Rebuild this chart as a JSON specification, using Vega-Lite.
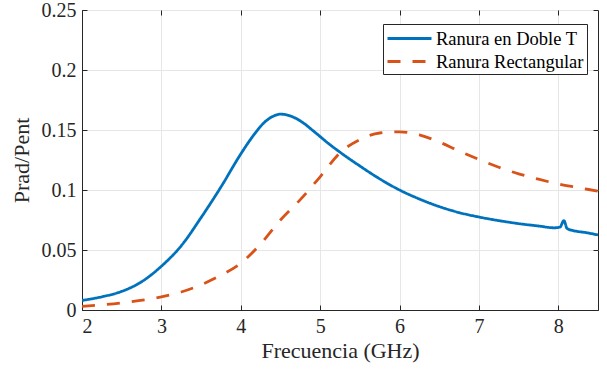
{
  "$schema": "https://vega.github.io/schema/vega-lite/v6.json",
  "width": 516,
  "height": 300,
  "autosize": "none",
  "padding": {"left": 82, "top": 10, "right": 9, "bottom": 66},
  "background": "white",
  "config": {
    "font": "Liberation Serif",
    "view": {"stroke": "#262626", "strokeWidth": 1},
    "axis": {
      "labelFont": "Liberation Serif",
      "titleFont": "Liberation Serif",
      "labelFontSize": 20,
      "titleFontSize": 22,
      "labelColor": "#262626",
      "titleColor": "#262626",
      "titleFontWeight": "normal",
      "domainColor": "#262626",
      "tickColor": "#262626",
      "gridColor": "#e6e6e6",
      "gridWidth": 1,
      "tickSize": -5
    }
  },
  "data": {
    "values": [
      {"f": 2.0, "v": 0.0080, "s": "Ranura en Doble T"},
      {"f": 2.25, "v": 0.0110, "s": "Ranura en Doble T"},
      {"f": 2.5, "v": 0.0155, "s": "Ranura en Doble T"},
      {"f": 2.75, "v": 0.0235, "s": "Ranura en Doble T"},
      {"f": 3.0, "v": 0.0365, "s": "Ranura en Doble T"},
      {"f": 3.25, "v": 0.0535, "s": "Ranura en Doble T"},
      {"f": 3.5, "v": 0.0770, "s": "Ranura en Doble T"},
      {"f": 3.75, "v": 0.1025, "s": "Ranura en Doble T"},
      {"f": 4.0, "v": 0.1300, "s": "Ranura en Doble T"},
      {"f": 4.1, "v": 0.1400, "s": "Ranura en Doble T"},
      {"f": 4.2, "v": 0.1490, "s": "Ranura en Doble T"},
      {"f": 4.3, "v": 0.1565, "s": "Ranura en Doble T"},
      {"f": 4.4, "v": 0.1612, "s": "Ranura en Doble T"},
      {"f": 4.5, "v": 0.1632, "s": "Ranura en Doble T"},
      {"f": 4.6, "v": 0.1622, "s": "Ranura en Doble T"},
      {"f": 4.7, "v": 0.1595, "s": "Ranura en Doble T"},
      {"f": 4.8, "v": 0.1553, "s": "Ranura en Doble T"},
      {"f": 4.9, "v": 0.1500, "s": "Ranura en Doble T"},
      {"f": 5.0, "v": 0.1445, "s": "Ranura en Doble T"},
      {"f": 5.1, "v": 0.1390, "s": "Ranura en Doble T"},
      {"f": 5.25, "v": 0.1315, "s": "Ranura en Doble T"},
      {"f": 5.5, "v": 0.1200, "s": "Ranura en Doble T"},
      {"f": 5.75, "v": 0.1093, "s": "Ranura en Doble T"},
      {"f": 6.0, "v": 0.1000, "s": "Ranura en Doble T"},
      {"f": 6.25, "v": 0.0925, "s": "Ranura en Doble T"},
      {"f": 6.5, "v": 0.0862, "s": "Ranura en Doble T"},
      {"f": 6.75, "v": 0.0812, "s": "Ranura en Doble T"},
      {"f": 7.0, "v": 0.0775, "s": "Ranura en Doble T"},
      {"f": 7.25, "v": 0.0745, "s": "Ranura en Doble T"},
      {"f": 7.5, "v": 0.0720, "s": "Ranura en Doble T"},
      {"f": 7.75, "v": 0.0700, "s": "Ranura en Doble T"},
      {"f": 7.95, "v": 0.0685, "s": "Ranura en Doble T"},
      {"f": 8.02, "v": 0.0690, "s": "Ranura en Doble T"},
      {"f": 8.07, "v": 0.0745, "s": "Ranura en Doble T"},
      {"f": 8.11, "v": 0.0680, "s": "Ranura en Doble T"},
      {"f": 8.2, "v": 0.0660, "s": "Ranura en Doble T"},
      {"f": 8.35, "v": 0.0645, "s": "Ranura en Doble T"},
      {"f": 8.5, "v": 0.0625, "s": "Ranura en Doble T"},
      {"f": 2.0, "v": 0.0030, "s": "Ranura Rectangular"},
      {"f": 2.5, "v": 0.0060, "s": "Ranura Rectangular"},
      {"f": 3.0, "v": 0.0110, "s": "Ranura Rectangular"},
      {"f": 3.25, "v": 0.0150, "s": "Ranura Rectangular"},
      {"f": 3.5, "v": 0.0210, "s": "Ranura Rectangular"},
      {"f": 3.75, "v": 0.0290, "s": "Ranura Rectangular"},
      {"f": 4.0, "v": 0.0390, "s": "Ranura Rectangular"},
      {"f": 4.25, "v": 0.0550, "s": "Ranura Rectangular"},
      {"f": 4.5, "v": 0.0750, "s": "Ranura Rectangular"},
      {"f": 4.75, "v": 0.0920, "s": "Ranura Rectangular"},
      {"f": 5.0, "v": 0.1110, "s": "Ranura Rectangular"},
      {"f": 5.25, "v": 0.1310, "s": "Ranura Rectangular"},
      {"f": 5.5, "v": 0.1420, "s": "Ranura Rectangular"},
      {"f": 5.75, "v": 0.1475, "s": "Ranura Rectangular"},
      {"f": 6.0, "v": 0.1485, "s": "Ranura Rectangular"},
      {"f": 6.25, "v": 0.1460, "s": "Ranura Rectangular"},
      {"f": 6.5, "v": 0.1400, "s": "Ranura Rectangular"},
      {"f": 6.75, "v": 0.1325, "s": "Ranura Rectangular"},
      {"f": 7.0, "v": 0.1255, "s": "Ranura Rectangular"},
      {"f": 7.25, "v": 0.1190, "s": "Ranura Rectangular"},
      {"f": 7.5, "v": 0.1135, "s": "Ranura Rectangular"},
      {"f": 7.75, "v": 0.1090, "s": "Ranura Rectangular"},
      {"f": 8.0, "v": 0.1050, "s": "Ranura Rectangular"},
      {"f": 8.25, "v": 0.1020, "s": "Ranura Rectangular"},
      {"f": 8.5, "v": 0.0990, "s": "Ranura Rectangular"}
    ]
  },
  "layer": [
    {
      "mark": {"type": "line", "strokeWidth": 2.8, "interpolate": "monotone", "clip": true},
      "encoding": {
        "x": {
          "field": "f", "type": "quantitative",
          "scale": {"domain": [2, 8.5], "nice": false, "zero": false},
          "axis": {"title": "Frecuencia (GHz)", "values": [2, 3, 4, 5, 6, 7, 8], "format": "d", "labelPadding": 11, "titlePadding": 4, "grid": true, "orient": "bottom"}
        },
        "y": {
          "field": "v", "type": "quantitative",
          "scale": {"domain": [0, 0.25], "nice": false},
          "axis": {"title": "Prad/Pent", "values": [0, 0.05, 0.1, 0.15, 0.2, 0.25], "labelExpr": "datum.value == 0 ? '0' : format(datum.value, '.3~f')", "labelPadding": 11, "titlePadding": 8, "grid": true, "orient": "left"}
        },
        "color": {
          "field": "s", "type": "nominal", "title": null,
          "scale": {"domain": ["Ranura en Doble T", "Ranura Rectangular"], "range": ["#0072BD", "#D95319"]},
          "legend": {
            "orient": "none", "legendX": 301, "legendY": 14,
            "fillColor": "white", "strokeColor": "#262626", "padding": 3,
            "symbolType": "M-1,0H3.4", "symbolSize": 400, "symbolStrokeWidth": 2.8,
            "symbolFillColor": "transparent",
            "labelFont": "Liberation Serif", "labelFontSize": 18.5, "labelColor": "#000000",
            "rowPadding": 2, "labelOffset": 27
          }
        },
        "strokeDash": {
          "field": "s", "type": "nominal", "title": null,
          "scale": {"domain": ["Ranura en Doble T", "Ranura Rectangular"], "range": [[1, 0], [13, 12]]}
        }
      }
    },
    {
      "mark": {"type": "rule", "opacity": 0},
      "encoding": {
        "x": {
          "field": "f", "type": "quantitative",
          "axis": {"orient": "top", "title": null, "labels": false, "values": [2, 3, 4, 5, 6, 7, 8], "grid": false, "domain": false}
        },
        "y": {
          "field": "v", "type": "quantitative",
          "axis": {"orient": "right", "title": null, "labels": false, "values": [0, 0.05, 0.1, 0.15, 0.2, 0.25], "grid": false, "domain": false}
        }
      }
    }
  ],
  "resolve": {"axis": {"x": "independent", "y": "independent"}}
}
